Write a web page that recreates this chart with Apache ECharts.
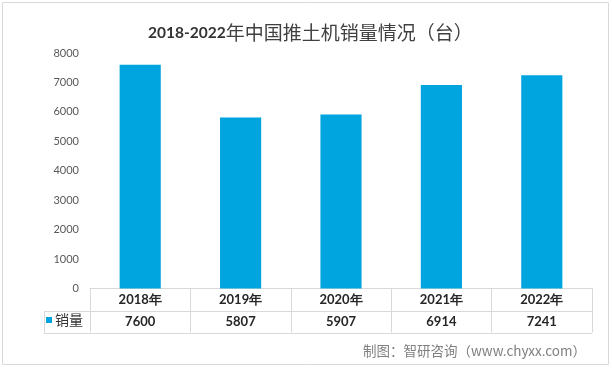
<!DOCTYPE html>
<html>
<head>
<meta charset="utf-8">
<script src="https://cdn.jsdelivr.net/npm/echarts@6/dist/echarts.min.js"></script>
<style>html,body{margin:0;padding:0;background:#fff;}#c{width:612px;height:368px;}</style>
</head>
<body>
<div id="c"></div>
<script>
const categories = ['2018年', '2019年', '2020年', '2021年', '2022年'];
const sales = [7600, 5807, 5907, 6914, 7241];
const seriesName = '销量';
const yMin = 0, yMax = 8000, yInterval = 1000;

const chart = echarts.init(document.getElementById('c'), null, {renderer: 'canvas'});
const lineColor = '#d9d9d9';
const option = {
  animation: false,
  backgroundColor: '#fff',
  title: {
    text: '{a|2018-2022}{b|年中国推土机销量情况（台）}',
    left: 143, top: 16,
    textStyle: {
      rich: {
        a: {fontFamily: 'Lato', fontWeight: 'bold', fontSize: 15.5, color: '#333', lineHeight: 24},
        b: {fontFamily: 'Noto Sans CJK SC', fontWeight: 'normal', fontSize: 19, color: '#404040', lineHeight: 24}
      }
    }
  },
  legend: {
    data: [seriesName], left: 46, top: 313, icon: 'rect', itemWidth: 6, itemHeight: 6, itemGap: 4,
    padding: 0,
    textStyle: {fontFamily: 'Noto Sans CJK SC', fontSize: 14, color: '#333', padding: [0,0,0,-2]}
  },
  grid: {left: 90, right: 20, top: 53, bottom: 79.5, containLabel: false},
  xAxis: {
    type: 'category', data: categories,
    axisLine: {show: true, lineStyle: {color: lineColor, width: 1}},
    axisTick: {show: true, length: 44, alignWithLabel: false, interval: 0, lineStyle: {color: lineColor}},
    axisLabel: {
      interval: 0, margin: 0,
      formatter: (v, i) => '{y|' + v + '}\n{v|' + sales[i] + '}',
      rich: {
        y: {fontFamily: 'Lato', fontWeight: 'bold', fontSize: 13, color: '#262626', lineHeight: 22},
        v: {fontFamily: 'Lato', fontWeight: 'bold', fontSize: 13, color: '#262626', lineHeight: 22}
      }
    }
  },
  yAxis: {
    type: 'value', min: yMin, max: yMax, interval: yInterval,
    axisLine: {show: false}, axisTick: {show: false}, splitLine: {show: false},
    axisLabel: {fontFamily: 'Lato', fontSize: 11, color: '#595959', margin: 11, formatter: v => String(v)}
  },
  series: [{
    name: seriesName, type: 'bar', data: sales, barWidth: '41%',
    itemStyle: {color: '#00A5DF'}
  }]
};
chart.setOption(option);

// table lines derived from axis scale
const c0 = chart.convertToPixel({xAxisIndex: 0}, 0);
const c1 = chart.convertToPixel({xAxisIndex: 0}, 1);
const band = c1 - c0;
const rightB = chart.convertToPixel({xAxisIndex: 0}, categories.length - 1) + band / 2;
const y0 = chart.convertToPixel({yAxisIndex: 0}, 0);
const rowH = 22;
const tableLeft = 44;
const ls = {stroke: lineColor, lineWidth: 1};
chart.setOption({
  graphic: [
    {type: 'rect', shape: {x: 2.5, y: 2.5, width: 606, height: 362}, style: {fill: 'none', stroke: lineColor, lineWidth: 1}, silent: true},
    {type: 'line', shape: {x1: tableLeft, y1: Math.round(y0 + rowH) + 0.5, x2: rightB, y2: Math.round(y0 + rowH) + 0.5}, style: ls},
    {type: 'line', shape: {x1: tableLeft, y1: Math.round(y0 + 2 * rowH) + 0.5, x2: rightB, y2: Math.round(y0 + 2 * rowH) + 0.5}, style: ls},
    {type: 'line', shape: {x1: tableLeft + 0.5, y1: Math.round(y0 + rowH), x2: tableLeft + 0.5, y2: Math.round(y0 + 2 * rowH) + 1}, style: ls},
    {type: 'text', right: 26, top: 344, style: {text: '制图：智研咨询（www.chyxx.com）', fill: '#7f7f7f', font: '13.5px "Noto Sans CJK SC"'}}
  ]
});
</script>
</body>
</html>
